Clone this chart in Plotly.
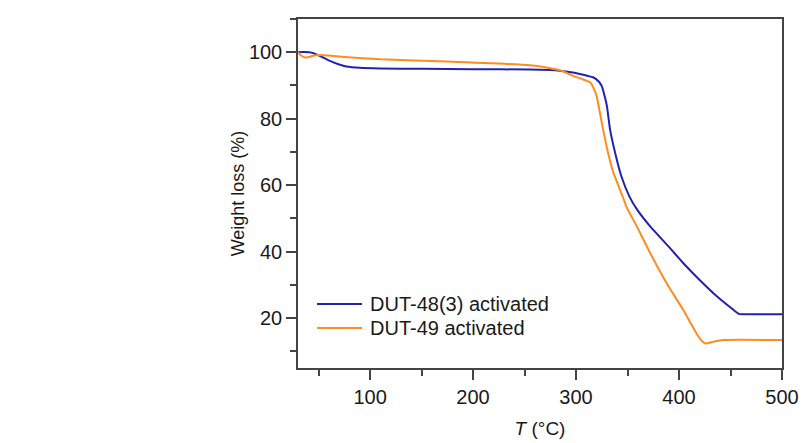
import plotly.graph_objects as go

# DUT-48(3) activated
t_dut48 = [30, 35, 41, 45, 52, 61, 70, 77, 90, 110, 150, 200, 255, 280, 297, 310, 317, 322, 325,
           328, 330, 333, 338, 344, 352, 359, 372, 390, 404, 420, 437, 450, 458, 470, 500]
w_dut48 = [100.0, 100.1, 100.0, 99.7, 98.8, 97.4, 96.3, 95.7, 95.3, 95.1, 95.0, 94.9, 94.8, 94.6,
           93.9, 93.0, 92.4, 91.2, 89.8, 86.5, 83.8, 76.8, 69.7, 62.7, 56.5, 52.8, 47.6, 41.5, 36.6,
           31.5, 26.5, 23.2, 21.3, 21.2, 21.2]

# DUT-49 activated
t_dut49 = [30, 33, 37, 41, 47, 55, 75, 110, 175, 255, 270, 285, 297, 307, 314, 318, 320, 325, 330,
           336, 342, 346, 349, 359, 372, 388, 404, 417, 422, 426, 432, 443, 500]
w_dut49 = [100.0, 99.0, 98.4, 98.6, 99.1, 99.1, 98.6, 97.9, 97.2, 96.1, 95.5, 94.5, 92.9, 91.8,
           90.9, 88.5, 86.8, 78.8, 71.2, 64.0, 59.2, 56.0, 53.5, 47.6, 39.6, 30.5, 22.5, 15.4, 13.2,
           12.4, 12.8, 13.4, 13.4]

series_names = ["DUT-48(3) activated", "DUT-49 activated"]
series_colors = ["#2222b0", "#ff8c1e"]
x_ticks = [100, 200, 300, 400, 500]
y_ticks = [20, 40, 60, 80, 100]

FONT = "Liberation Sans, Arial, sans-serif"
AX = "#444444"
TXT = "#1a1a1a"

fig = go.Figure()
for t, w, name, col in [(t_dut48, w_dut48, series_names[0], series_colors[0]),
                        (t_dut49, w_dut49, series_names[1], series_colors[1])]:
    fig.add_trace(go.Scatter(x=t, y=w, mode="lines", name=name, showlegend=False,
                             line=dict(color=col, width=2, shape="spline", smoothing=0.5)))

axis_common = dict(showgrid=False, zeroline=False, showline=True, linecolor=AX, linewidth=1.5,
                   mirror=True, ticks="outside", ticklen=10, tickwidth=1.5, tickcolor=AX,
                   automargin=False,
                   tickfont=dict(family=FONT, size=20, color=TXT))

fig.update_xaxes(range=[30, 500], tickvals=x_ticks,
                 minor=dict(ticks="outside", ticklen=6, tickwidth=1.5, tickcolor=AX, dtick=50, tick0=0),
                 title=dict(text="<i>T</i> (°C)", font=dict(family=FONT, size=19, color=TXT),
                            standoff=15),
                 **axis_common)
fig.update_yaxes(range=[5, 110], tickvals=y_ticks,
                 minor=dict(ticks="outside", ticklen=6, tickwidth=1.5, tickcolor=AX, dtick=20, tick0=10),
                 title=dict(text="Weight loss (%)", font=dict(family=FONT, size=18, color=TXT),
                            standoff=0),
                 **axis_common)

# manual legend (line samples + labels)
leg_y = [0.1834, 0.1146]
shapes = []
annotations = []
for i in range(2):
    shapes.append(dict(type="line", xref="paper", yref="paper", x0=0.0393, x1=0.1322,
                       y0=leg_y[i], y1=leg_y[i], line=dict(color=series_colors[i], width=2)))
    annotations.append(dict(xref="paper", yref="paper", x=0.1446, y=leg_y[i], xanchor="left",
                            yanchor="middle", text=series_names[i], showarrow=False,
                            font=dict(family=FONT, size=20, color=TXT)))

fig.update_layout(
    width=802, height=443,
    margin=dict(l=298, r=20, t=19, b=75),
    paper_bgcolor="white", plot_bgcolor="white",
    showlegend=False,
    shapes=shapes, annotations=annotations,
)

fig.write_html("out.html")
